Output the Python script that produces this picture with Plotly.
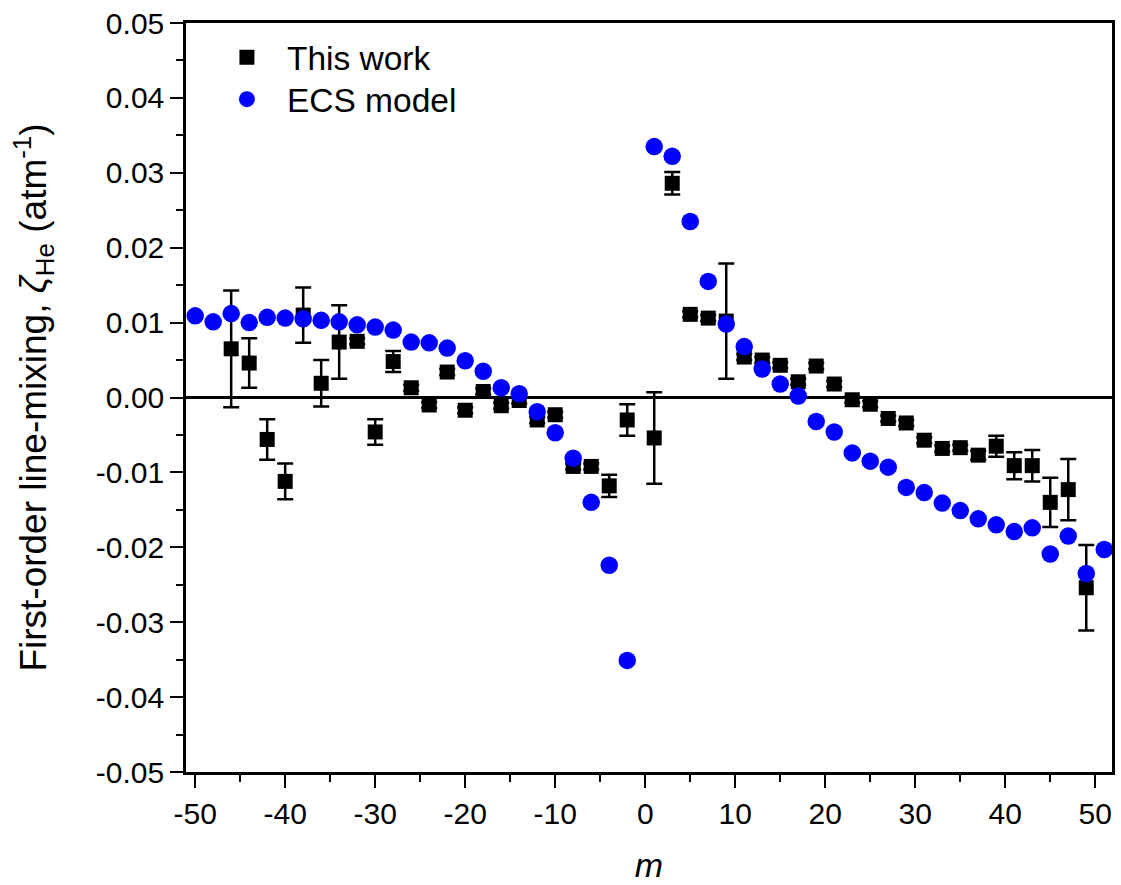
import plotly.graph_objects as go

# ---- data ----
m_work = [-46, -44, -42, -40, -38, -36, -34, -32, -30, -28, -26, -24, -22, -20, -18, -16,
          -14, -12, -10, -8, -6, -4, -2,
          1, 3, 5, 7, 9, 11, 13, 15, 17, 19, 21, 23, 25, 27, 29, 31, 33, 35, 37, 39, 41,
          43, 45, 47, 49]
zeta_work = [0.0065, 0.0046, -0.0056, -0.0112, 0.0110, 0.0019, 0.0074, 0.0075, -0.0046,
             0.0048, 0.0013, -0.0010, 0.0034, -0.0017, 0.0008, -0.0011, -0.0004, -0.0030,
             -0.0023, -0.0092, -0.0092, -0.0118, -0.0030,
             -0.0054, 0.0286, 0.0111, 0.0106, 0.0102, 0.0054, 0.0050, 0.0043, 0.0021,
             0.0042, 0.0018, -0.0003, -0.0009, -0.0028, -0.0034, -0.0057, -0.0068, -0.0067,
             -0.0077, -0.0065, -0.0091, -0.0091, -0.0140, -0.0123, -0.0254]
err_work = [0.0078, 0.0033, 0.0027, 0.0024, 0.0037, 0.0031, 0.0049, 0.0004, 0.0017,
            0.0014, 0.0004, 0.0004, 0.0004, 0.0004, 0.0004, 0.0004, 0.0004, 0.0004,
            0.0004, 0.0004, 0.0004, 0.0015, 0.0021,
            0.0061, 0.0015, 0.0004, 0.0004, 0.0077, 0.0004, 0.0004, 0.0004, 0.0004,
            0.0004, 0.0004, 0.0004, 0.0004, 0.0004, 0.0004, 0.0004, 0.0004, 0.0004,
            0.0006, 0.0014, 0.0018, 0.0021, 0.0033, 0.0041, 0.0057]

m_ecs = [-50, -48, -46, -44, -42, -40, -38, -36, -34, -32, -30, -28, -26, -24, -22, -20,
         -18, -16, -14, -12, -10, -8, -6, -4, -2,
         1, 3, 5, 7, 9, 11, 13, 15, 17, 19, 21, 23, 25, 27, 29, 31, 33, 35, 37, 39, 41,
         43, 45, 47, 49, 51]
zeta_ecs = [0.0109, 0.0101, 0.0112, 0.0100, 0.0107, 0.0106, 0.0105, 0.0103, 0.0101,
            0.0097, 0.0094, 0.0090, 0.0074, 0.0073, 0.0066, 0.0049, 0.0035, 0.0013,
            0.0005, -0.0019, -0.0047, -0.0081, -0.0140, -0.0224, -0.0351,
            0.0335, 0.0322, 0.0235, 0.0155, 0.0098, 0.0068, 0.0038, 0.0018, 0.0002,
            -0.0032, -0.0046, -0.0074, -0.0085, -0.0093, -0.0120, -0.0127, -0.0141,
            -0.0151, -0.0162, -0.0170, -0.0179, -0.0174, -0.0209, -0.0185, -0.0235,
            -0.0203]

x_tick_vals = [-50, -40, -30, -20, -10, 0, 10, 20, 30, 40, 50]
x_tick_text = ["-50", "-40", "-30", "-20", "-10", "0", "10", "20", "30", "40", "50"]
y_tick_vals = [-0.05, -0.04, -0.03, -0.02, -0.01, 0.0, 0.01, 0.02, 0.03, 0.04, 0.05]
y_tick_text = ["-0.05", "-0.04", "-0.03", "-0.02", "-0.01", "0.00", "0.01", "0.02",
               "0.03", "0.04", "0.05"]

FONT = "Liberation Sans, Arial, sans-serif"

fig = go.Figure()
fig.add_trace(go.Scatter(
    x=m_work, y=zeta_work, mode="markers", name="This work", legend="legend",
    marker=dict(symbol="square", size=15, color="black"),
    error_y=dict(type="data", array=err_work, color="black", thickness=2.5, width=8),
))
fig.add_trace(go.Scatter(
    x=m_ecs, y=zeta_ecs, mode="markers", name="ECS model", legend="legend2",
    marker=dict(symbol="circle", size=17.5, color="#0000FF"),
))

axis_common = dict(
    showline=True, linecolor="black", linewidth=2.5, mirror=True,
    ticks="outside", ticklen=13, tickwidth=2, tickcolor="black",
    showgrid=False, tickfont=dict(family=FONT, size=30, color="black"),
)

legend_common = dict(
    xanchor="left", yanchor="top", bgcolor="rgba(0,0,0,0)", borderwidth=0,
    font=dict(family=FONT, size=33.5, color="black"), itemwidth=70,
)

fig.update_layout(
    width=1121, height=885,
    margin=dict(l=186, r=6, t=20, b=112),
    paper_bgcolor="white", plot_bgcolor="white",
    font=dict(family=FONT, color="black"),
    xaxis=dict(
        **axis_common,
        range=[-51.02, 51.86], zeroline=False,
        tickvals=x_tick_vals, ticktext=x_tick_text,
        minor=dict(ticks="outside", ticklen=7, tickwidth=2, tickcolor="black", dtick=5,
                   tick0=0, showgrid=False),
        title=dict(text="<i>m</i>", font=dict(family=FONT, size=34), standoff=25),
    ),
    yaxis=dict(
        **axis_common,
        range=[-0.05, 0.05],
        zeroline=True, zerolinecolor="black", zerolinewidth=2.5,
        tickvals=y_tick_vals, ticktext=y_tick_text,
        minor=dict(ticks="outside", ticklen=7, tickwidth=2, tickcolor="black", dtick=0.005,
                   tick0=0, showgrid=False),
        title=dict(text="First-order line-mixing, <i>ζ</i><sub>He</sub> (atm<sup>-1</sup>)",
                   font=dict(family=FONT, size=37), standoff=38),
    ),
    showlegend=True,
    legend=dict(x=0.0226, y=0.992, **legend_common),
    legend2=dict(x=0.0226, y=0.936, **legend_common),
)

fig.write_html("out.html")
